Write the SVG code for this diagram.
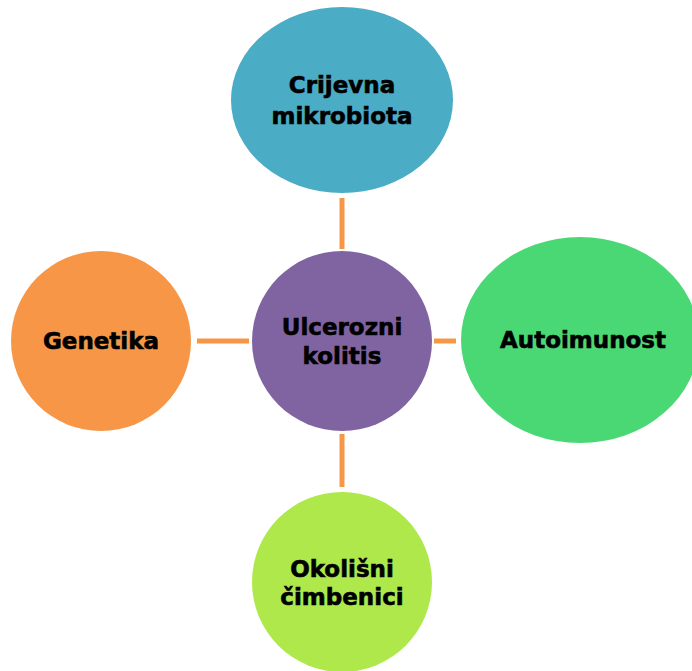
<svg xmlns="http://www.w3.org/2000/svg" width="692" height="671" viewBox="0 0 692 671">
<style>
.lbl{font-family:"DejaVu Sans","Liberation Sans",sans-serif;font-weight:bold;font-size:23px;fill:#000;stroke:#000;stroke-width:0.6;text-anchor:middle}
.con{stroke:#F79646;stroke-width:5;fill:none}
</style>
<rect width="692" height="671" fill="#fff"/>
<g id="connectors">
<line class="con" x1="342" y1="198" x2="342" y2="249"/>
<line class="con" x1="434" y1="341" x2="456" y2="341"/>
<line class="con" x1="197" y1="341" x2="249" y2="341"/>
<line class="con" x1="342" y1="434" x2="342" y2="487"/>
</g>
<g id="n-top">
<ellipse cx="342" cy="100" rx="111" ry="93" fill="#4BACC6"/>
<text class="lbl" x="342" y="93">Crijevna</text>
<text class="lbl" x="342" y="124">mikrobiota</text>
</g>
<g id="n-center">
<circle cx="342" cy="341" r="90" fill="#8064A2"/>
<text class="lbl" x="342" y="335">Ulcerozni</text>
<text class="lbl" x="342" y="364">kolitis</text>
</g>
<g id="n-right">
<ellipse cx="580" cy="340" rx="119" ry="103" fill="#4AD874"/>
<text class="lbl" x="583" y="348">Autoimunost</text>
</g>
<g id="n-left">
<circle cx="101" cy="341" r="90" fill="#F79646"/>
<text class="lbl" x="101" y="349">Genetika</text>
</g>
<g id="n-bottom">
<circle cx="342" cy="582" r="90" fill="#AFE84A"/>
<text class="lbl" x="342" y="577">Okolišni</text>
<text class="lbl" x="342" y="605">čimbenici</text>
</g>
</svg>
